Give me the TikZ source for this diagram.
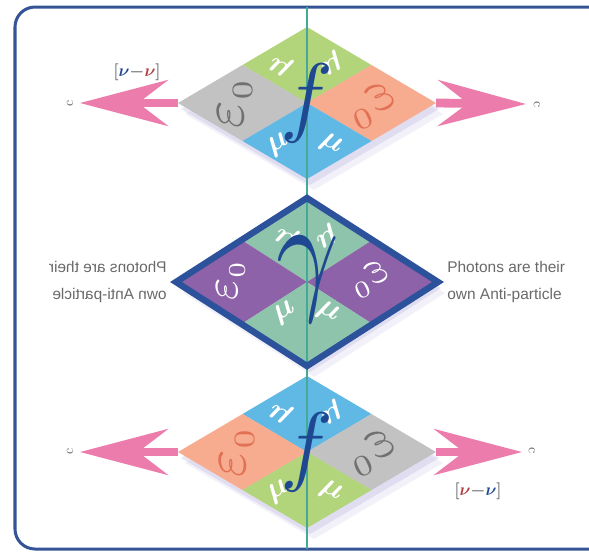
\documentclass[tikz,border=0pt]{standalone}
\usepackage{fontspec}
\newfontfamily\labelfont{Liberation Sans}
\usetikzlibrary{arrows.meta,calc}

\definecolor{framecol}{RGB}{52,84,150}
\definecolor{axiscol}{RGB}{70,168,150}
\definecolor{arrowpink}{RGB}{236,124,172}
\definecolor{qgreen}{RGB}{178,212,122}
\definecolor{qgray}{RGB}{194,194,194}
\definecolor{qorange}{RGB}{247,172,144}
\definecolor{qblue}{RGB}{96,184,228}
\definecolor{qteal}{RGB}{142,196,172}
\definecolor{qpurple}{RGB}{142,98,168}
\definecolor{outlinecol}{RGB}{44,82,156}
\definecolor{letterblue}{RGB}{30,72,146}
\definecolor{epsgray}{RGB}{112,112,112}
\definecolor{epsorange}{RGB}{226,112,84}
\definecolor{nured}{RGB}{176,60,60}
\definecolor{textgray}{RGB}{105,105,105}
\definecolor{shadowcol}{RGB}{170,160,215}

\tikzset{
  mulabel/.style={text=white, scale=2.2, inner sep=0pt, font=\boldmath},
  epslabel/.style={scale=#1, inner sep=0pt},
  centreglyph/.style={text=letterblue, inner sep=0pt},
  pinkarrow/.style={arrowpink, line width=0.22cm,
    -{Stealth[length=2.2cm,width=1.15cm,inset=0.75cm]}},
  clabel/.style={text=textgray, inner sep=0pt},
  nulabel/.style={text=textgray, font=\large\boldmath},
  photontext/.style={text=textgray, align=left, inner sep=0pt,
    font=\labelfont\fontsize{11}{19}\selectfont},
}

\begin{document}
\begin{tikzpicture}[x=0.025cm, y=-0.025cm]
    \useasboundingbox (0,0) rectangle (589,555);
    \clip (0,0) rectangle (589,555);

    % Frame and axis
    \coordinate (frame-nw) at (15,7);
    \coordinate (frame-se) at (640,549);
    \coordinate (axis-top) at (307,7);
    \coordinate (axis-bot) at (307,549);

    % Diamond corners
    \foreach \n/\cy/\a/\b in {top/103/129/76, mid/282/131/84, bot/452/129/76} {
        \coordinate (\n-c) at (307,\cy);
        \coordinate (\n-t) at ($(\n-c)+(0,-\b)$);
        \coordinate (\n-b) at ($(\n-c)+(0,\b)$);
        \coordinate (\n-l) at ($(\n-c)+(-\a,0)$);
        \coordinate (\n-r) at ($(\n-c)+(\a,0)$);
        \coordinate (\n-tl) at ($(\n-t)!0.5!(\n-l)$);
        \coordinate (\n-tr) at ($(\n-t)!0.5!(\n-r)$);
        \coordinate (\n-bl) at ($(\n-b)!0.5!(\n-l)$);
        \coordinate (\n-br) at ($(\n-b)!0.5!(\n-r)$);
    }

    % Arrow tips
    \coordinate (top-ltip) at (80,103);
    \coordinate (top-rtip) at (526,104);
    \coordinate (bot-ltip) at (80,452);
    \coordinate (bot-rtip) at (522,452);

    % Arrows (under the diamonds)
    \draw[pinkarrow] (top-l) -- (top-ltip);
    \draw[pinkarrow] (top-r) -- (top-rtip);
    \draw[pinkarrow] (bot-l) -- (bot-ltip);
    \draw[pinkarrow] (bot-r) -- (bot-rtip);

    % Quadrants
    \foreach \n/\ct/\cl/\cr/\cb in {top/qgreen/qgray/qorange/qblue,
                                    mid/qteal/qpurple/qpurple/qteal,
                                    bot/qblue/qorange/qgray/qgreen} {
        \fill[shadowcol, opacity=0.15] ($(\n-t)+(7,11)$) -- ($(\n-r)+(7,11)$)
            -- ($(\n-b)+(7,11)$) -- ($(\n-l)+(7,11)$) -- cycle;
        \fill[shadowcol, opacity=0.25] ($(\n-t)+(3,6)$) -- ($(\n-r)+(3,6)$)
            -- ($(\n-b)+(3,6)$) -- ($(\n-l)+(3,6)$) -- cycle;
        \fill[\ct] (\n-t) -- (\n-tr) -- (\n-c) -- (\n-tl) -- cycle;
        \fill[\cl] (\n-l) -- (\n-tl) -- (\n-c) -- (\n-bl) -- cycle;
        \fill[\cr] (\n-r) -- (\n-tr) -- (\n-c) -- (\n-br) -- cycle;
        \fill[\cb] (\n-b) -- (\n-br) -- (\n-c) -- (\n-bl) -- cycle;
    }

    % Frame, axis, photon outline
    \draw[framecol, line width=0.075cm, rounded corners=0.5cm] (frame-nw) rectangle (frame-se);
    \draw[axiscol, line width=0.04cm] (axis-top) -- (axis-bot);
    \draw[outlinecol, line width=0.16cm, line join=miter] (mid-t) -- (mid-r) -- (mid-b) -- (mid-l) -- cycle;

    % Top fermion
    \node[mulabel, rotate=150] (top-mu1) at ($(top-c)+(-26,-38)$) {$\mu$};
    \node[mulabel, rotate=-150] (top-mu2) at ($(top-c)+(24,-40)$) {$\mu$};
    \node[mulabel, rotate=30] (top-mu3) at ($(top-c)+(-28,42)$) {$\mu$};
    \node[mulabel, rotate=-30] (top-mu4) at ($(top-c)+(24,42)$) {$\mu$};
    \node[epslabel=4.2, text=epsgray, rotate=90] (top-eps1) at ($(top-c)+(-72,0)$) {$\varepsilon_{\scriptscriptstyle 0}$};
    \node[epslabel=4.2, text=epsorange, xscale=-1, rotate=-25] (top-eps2) at ($(top-c)+(64,4)$) {$\varepsilon_{\scriptscriptstyle 0}$};
    \node[centreglyph, scale=6.3] (top-f) at (top-c) {$f$};
    \node[clabel, rotate=90] (top-cl) at (70,103) {c};
    \node[clabel, rotate=-90] (top-cr) at (537,105) {c};
    \node[nulabel] (top-nu) at (137,72) {$[\textcolor{letterblue}{\nu}{-}\textcolor{nured}{\nu}]$};

    % Photon
    \node[mulabel, rotate=150] (mid-mu1) at ($(mid-c)+(-20,-46)$) {$\mu$};
    \node[mulabel, rotate=-150] (mid-mu2) at ($(mid-c)+(19,-46)$) {$\mu$};
    \node[mulabel, rotate=30] (mid-mu3) at ($(mid-c)+(-22,31)$) {$\mu$};
    \node[mulabel, rotate=-30] (mid-mu4) at ($(mid-c)+(21,31)$) {$\mu$};
    \node[epslabel=3.4, text=white, rotate=90] (mid-eps1) at ($(mid-c)+(-76,-2)$) {$\varepsilon_{\scriptscriptstyle 0}$};
    \node[epslabel=3.4, text=white, xscale=-1, rotate=-25] (mid-eps2) at ($(mid-c)+(62,-2)$) {$\varepsilon_{\scriptscriptstyle 0}$};
    \node[centreglyph, xscale=7.8, yscale=9.7] (mid-gamma) at ($(mid-c)+(1,-3)$) {$\gamma$};
    \node[photontext, anchor=west] (mid-textr) at (447,282) {Photons are their\\own Anti-particle};
    \node[photontext, anchor=west, xscale=-1] (mid-textl) at (167,282) {Photons are their\\own Anti-particle};

    % Bottom fermion
    \node[mulabel, rotate=150] (bot-mu1) at ($(bot-c)+(-26,-40)$) {$\mu$};
    \node[mulabel, rotate=-150] (bot-mu2) at ($(bot-c)+(24,-40)$) {$\mu$};
    \node[mulabel, rotate=30] (bot-mu3) at ($(bot-c)+(-28,40)$) {$\mu$};
    \node[mulabel, rotate=-30] (bot-mu4) at ($(bot-c)+(24,40)$) {$\mu$};
    \node[epslabel=4.2, text=epsorange, rotate=90] (bot-eps1) at ($(bot-c)+(-70,0)$) {$\varepsilon_{\scriptscriptstyle 0}$};
    \node[epslabel=4.2, text=epsgray, xscale=-1, rotate=-25] (bot-eps2) at ($(bot-c)+(64,2)$) {$\varepsilon_{\scriptscriptstyle 0}$};
    \node[centreglyph, scale=6.3] (bot-f) at (bot-c) {$f$};
    \node[clabel, rotate=90] (bot-cl) at (70,451) {c};
    \node[clabel, rotate=-90] (bot-cr) at (532,451) {c};
    \node[nulabel] (bot-nu) at (478,491) {$[\textcolor{nured}{\nu}{-}\textcolor{letterblue}{\nu}]$};
\end{tikzpicture}
\end{document}
